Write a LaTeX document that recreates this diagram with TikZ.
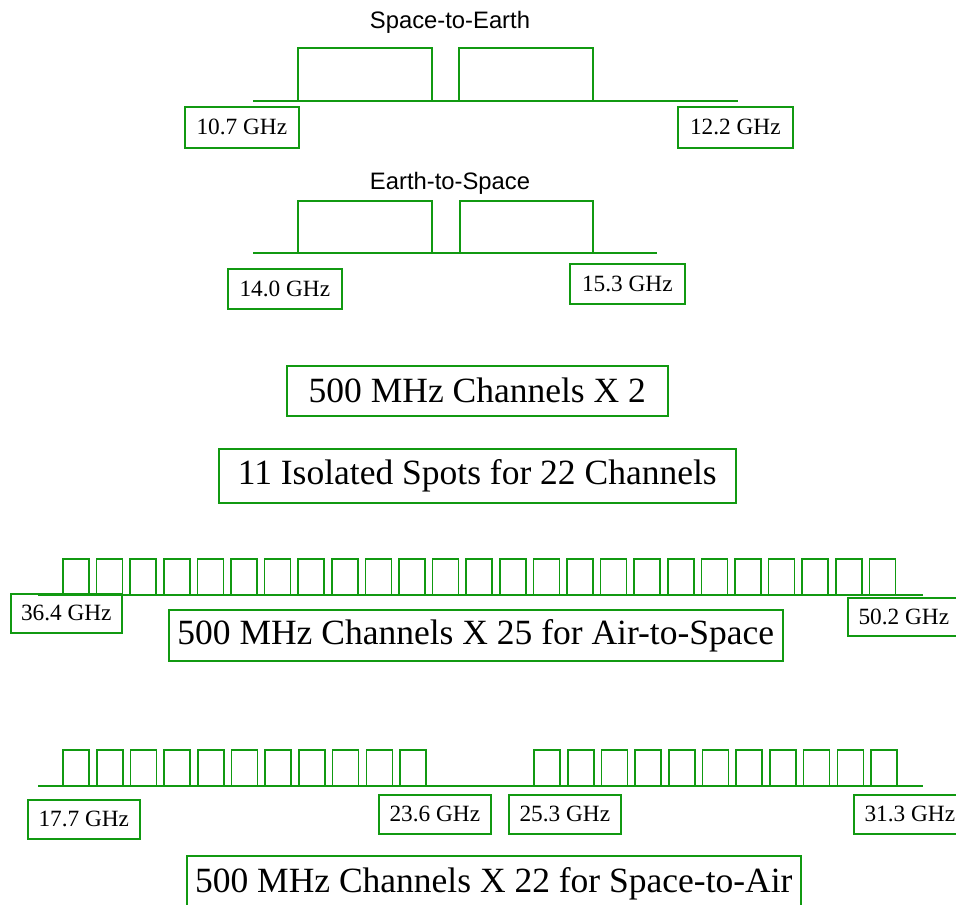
\documentclass[tikz,border=0pt]{standalone}
\usepackage{fontspec}
\setmainfont{Liberation Serif}
\newfontfamily\sansf{Liberation Sans}
\definecolor{gr}{RGB}{17,153,17}
\begin{document}
\begin{tikzpicture}[x=1pt,y=-1pt,
  chan/.style={draw=gr,line width=1.6pt},
  base/.style={draw=gr,line width=1.6pt},
  freq/.style={draw=gr,line width=1.6pt,inner sep=0pt,anchor=north west,
    font=\fontsize{23.3}{23.3}\selectfont,text=black},
  big/.style={draw=gr,line width=1.6pt,inner sep=0pt,anchor=north west,
    font=\fontsize{35.5}{35.5}\selectfont,text=black},
  ttl/.style={font=\sansf\fontsize{23.8}{23.8}\selectfont,text=black}]
\useasboundingbox (0,0) rectangle (956,905);

% ---- Space-to-Earth
\node[ttl] (t1) at (450,22) {Space-to-Earth};
\draw[base] (253,101) -- (738,101);
\draw[chan] (298,101) rectangle (432,48);
\draw[chan] (459,101) rectangle (593,48);
\node[freq,minimum width=114pt,minimum height=41pt] (f107) at (184,106) {10.7 GHz};
\node[freq,minimum width=115pt,minimum height=41pt] (f122) at (677,106) {12.2 GHz};

% ---- Earth-to-Space
\node[ttl] (t2) at (450,183) {Earth-to-Space};
\draw[base] (253,253) -- (657,253);
\draw[chan] (298,253) rectangle (432,201);
\draw[chan] (460,253) rectangle (593,201);
\node[freq,minimum width=114pt,minimum height=40pt] (f140) at (227,268) {14.0 GHz};
\node[freq,minimum width=115pt,minimum height=40pt] (f153) at (569,263) {15.3 GHz};

% ---- summary boxes
\node[big,minimum width=381pt,minimum height=50pt] (b2) at (286,365) {500 MHz Channels X 2};
\node[big,minimum width=517pt,minimum height=54pt] (b11) at (218,448) {11 Isolated Spots for 22 Channels};

% ---- Air-to-Space row
\draw[base] (38,595) -- (923,595);
\foreach \i in {0,...,24} \draw[chan] ({63+33.6*\i},595) rectangle ++(26,-36);
\node[freq,minimum width=111pt,minimum height=39pt] (f364) at (10,593) {36.4 GHz};
\node[freq,minimum width=112pt,minimum height=38pt] (f502) at (847,597) {50.2 GHz};
\node[big,minimum width=614pt,minimum height=51pt] (b25) at (168,609) {500 MHz Channels X 25 for Air-to-Space};

% ---- Space-to-Air row
\draw[base] (38,786) -- (923,786);
\foreach \i in {0,...,10} \draw[chan] ({63+33.7*\i},786) rectangle ++(26,-36);
\foreach \i in {0,...,10} \draw[chan] ({534+33.7*\i},786) rectangle ++(26,-36);
\node[freq,minimum width=112pt,minimum height=39pt] (f177) at (27,799) {17.7 GHz};
\node[freq,minimum width=112pt,minimum height=39pt] (f236) at (378,794) {23.6 GHz};
\node[freq,minimum width=112pt,minimum height=39pt] (f253) at (508,794) {25.3 GHz};
\node[freq,minimum width=112pt,minimum height=39pt] (f313) at (853,794) {31.3 GHz};
\node[big,minimum width=614pt,minimum height=55pt] (b22) at (186,855) {500 MHz Channels X 22 for Space-to-Air};
\end{tikzpicture}
\end{document}
